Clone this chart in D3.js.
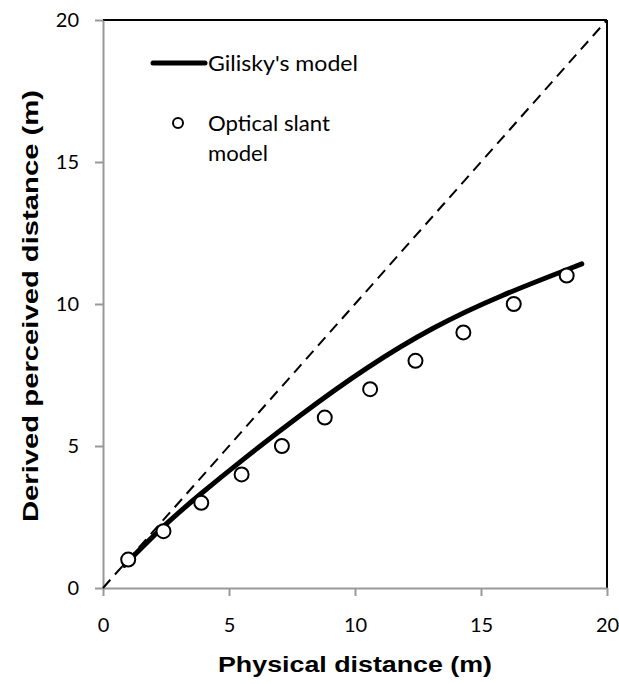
<!DOCTYPE html>
<html><head><meta charset="utf-8">
<script src="https://cdn.jsdelivr.net/npm/d3@7"></script>
<style>body{margin:0;background:#fff}</style>
</head><body>
<script>
const xTicks = [0, 5, 10, 15, 20];
const yTicks = [0, 5, 10, 15, 20];
const modelX = [0.85, 2.4, 3.85, 5.44, 7.8, 10.46, 13.1, 15.75, 19];
const modelY = [0.8, 2.2, 3.3, 4.45, 6.08, 7.78, 9.2, 10.3, 11.41];
const slantX = [1, 2.4, 3.9, 5.5, 7.1, 8.8, 10.6, 12.4, 14.3, 16.3, 18.4];
const slantY = [1, 2, 3, 4, 5, 6, 7, 8, 9, 10, 11];
const legendLabels = ["Gilisky's model", ["Optical slant", "model"]];

const W = 619, H = 684;
const svg = d3.select("body").append("svg").attr("width", W).attr("height", H);
const x = d3.scaleLinear().domain([0, 20]).range([103, 607]);
const y = d3.scaleLinear().domain([0, 20]).range([588, 20]);
const font = "Lato, 'Open Sans', sans-serif";

// top and right border
svg.append("line").attr("x1", x(0)).attr("x2", x(20)).attr("y1", y(20)).attr("y2", y(20))
  .attr("stroke", "#000").attr("stroke-width", 2);
svg.append("line").attr("x1", x(20)).attr("x2", x(20)).attr("y1", y(20)).attr("y2", y(0))
  .attr("stroke", "#000").attr("stroke-width", 2);

const xAxis = svg.append("g").attr("transform", `translate(0,${y(0)})`)
  .call(d3.axisBottom(x).tickValues(xTicks).tickSize(8).tickPadding(22).tickSizeOuter(0));
const yAxis = svg.append("g").attr("transform", `translate(${x(0)},0)`)
  .call(d3.axisLeft(y).tickValues(yTicks).tickSize(8).tickPadding(16).tickSizeOuter(0));
[xAxis, yAxis].forEach(g => {
  g.select(".domain").attr("stroke", "#999").attr("stroke-width", 2);
  g.selectAll(".tick line").attr("stroke", "#999").attr("stroke-width", 2);
  g.selectAll(".tick text").attr("font-family", font).attr("font-size", 20).attr("fill", "#000");
});

// identity dashed line
svg.append("line").attr("x1", x(0)).attr("y1", y(0)).attr("x2", x(20)).attr("y2", y(20))
  .attr("stroke", "#000").attr("stroke-width", 2).attr("stroke-dasharray", "11,7");

// Gilisky's model
const line = d3.line().x(d => x(d[0])).y(d => y(d[1])).curve(d3.curveBasis);
svg.append("path").datum(modelX.map((v, i) => [v, modelY[i]]))
  .attr("d", line).attr("fill", "none").attr("stroke", "#000").attr("stroke-width", 5)
  .attr("stroke-linecap", "round");

// Optical slant model
svg.selectAll("circle.pt").data(slantX.map((v, i) => [v, slantY[i]])).enter()
  .append("circle").attr("class", "pt")
  .attr("cx", d => x(d[0])).attr("cy", d => y(d[1])).attr("r", 7)
  .attr("fill", "#fff").attr("stroke", "#000").attr("stroke-width", 2);

// legend
svg.append("line").attr("x1", 153).attr("x2", 205).attr("y1", 63).attr("y2", 63)
  .attr("stroke", "#000").attr("stroke-width", 5).attr("stroke-linecap", "round");
svg.append("text").attr("x", 208).attr("y", 63).attr("dy", "0.35em")
  .attr("font-family", font).attr("font-size", 22).attr("textLength", 150)
  .attr("lengthAdjust", "spacingAndGlyphs").text(legendLabels[0]);
svg.append("circle").attr("cx", 178).attr("cy", 123).attr("r", 5)
  .attr("fill", "#fff").attr("stroke", "#000").attr("stroke-width", 2);
const lens = [122, 60];
legendLabels[1].forEach((t, i) => {
  svg.append("text").attr("x", 208).attr("y", 123 + i * 30).attr("dy", "0.35em")
    .attr("font-family", font).attr("font-size", 22).attr("textLength", lens[i])
    .attr("lengthAdjust", "spacingAndGlyphs").text(t);
});

// axis titles
svg.append("text").attr("x", 355).attr("y", 664).attr("dy", "0.35em").attr("text-anchor", "middle")
  .attr("font-family", "'Liberation Sans', Arial, sans-serif").attr("font-weight", "bold")
  .attr("font-size", 22).attr("textLength", 274).attr("lengthAdjust", "spacingAndGlyphs")
  .text("Physical distance (m)");
svg.append("text").attr("transform", "translate(30,306) rotate(-90)").attr("dy", "0.35em")
  .attr("text-anchor", "middle")
  .attr("font-family", "'Liberation Sans', Arial, sans-serif").attr("font-weight", "bold")
  .attr("font-size", 22).attr("textLength", 432).attr("lengthAdjust", "spacingAndGlyphs")
  .text("Derived perceived distance (m)");
</script>
</body></html>
